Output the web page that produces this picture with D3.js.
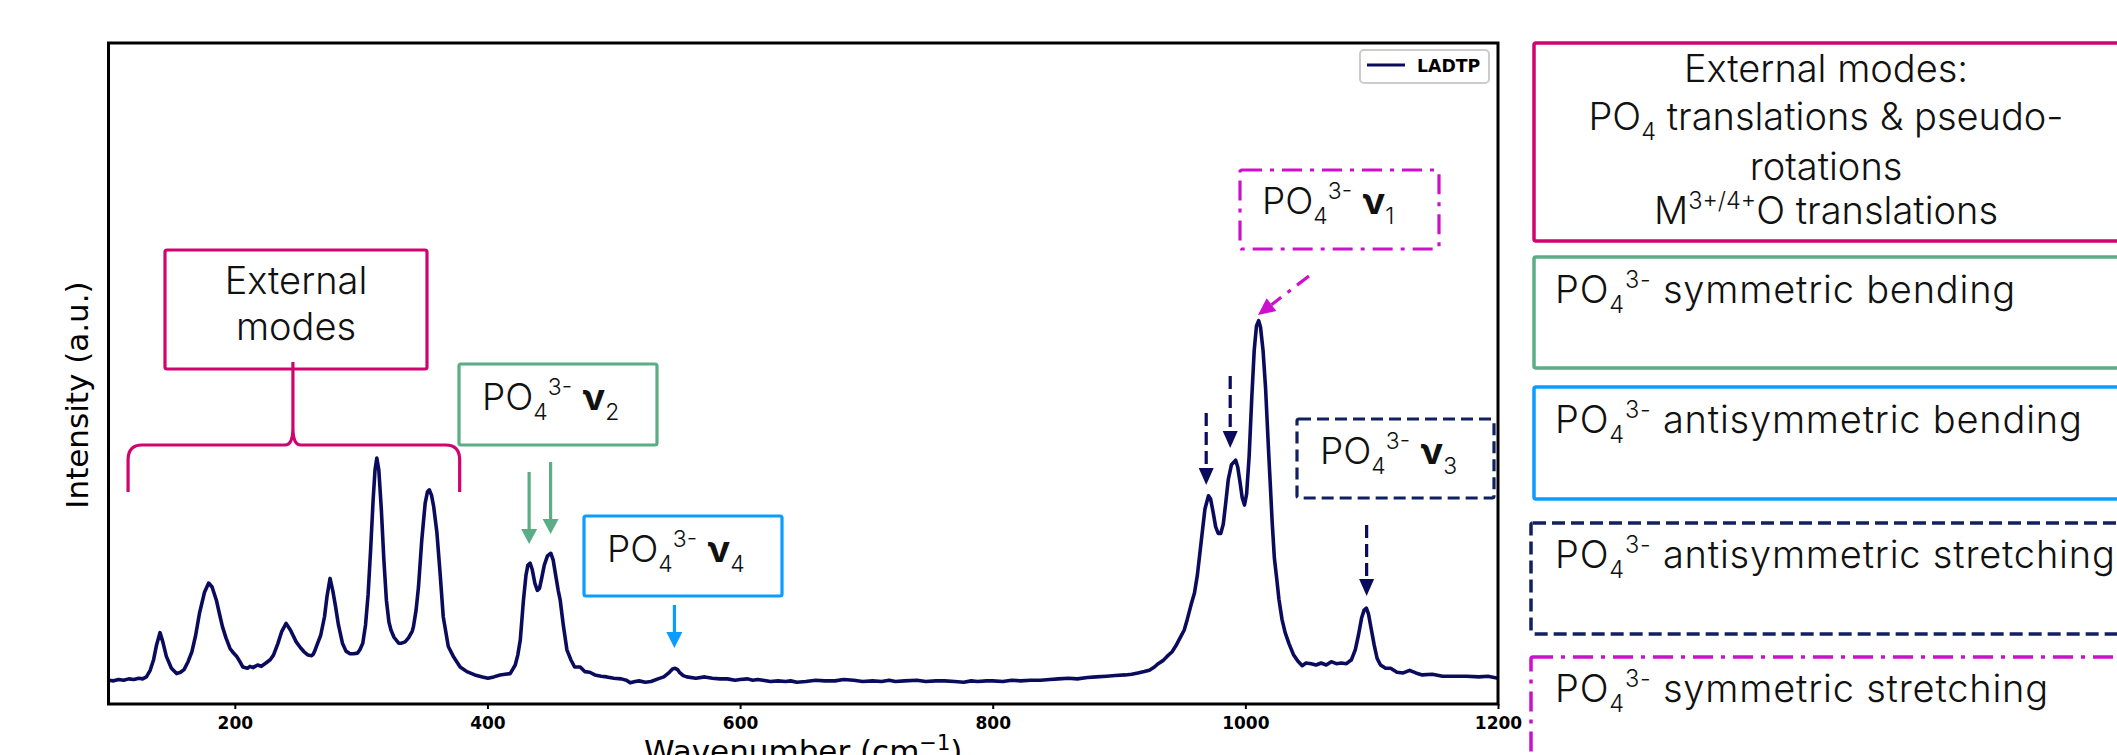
<!DOCTYPE html>
<html>
<head>
<meta charset="utf-8">
<script src="https://cdn.jsdelivr.net/npm/d3@7"></script>
<style>
  html, body { margin: 0; padding: 0; background: #fff; }
  svg { display: block; }
</style>
</head>
<body>
<svg id="chart" width="2117" height="755"></svg>
<script>
// ---------------- DATA ----------------
const seriesName = "LADTP";
const wavenumber = [100,104,108,112,116,120,124,127,130,133,135.7,138,140.8,143,145.8,149.8,153.9,157,159.8,163,166,169,172,176,179.3,182,185.4,188,190.2,193,196.2,199,201.5,204,206.3,210,212,214.4,218,221,224.6,228,230.6,234,237,240.6,244,248.6,252,254.8,258,260.8,262,263,265,268,271,273,275.4,277.5,279.8,282,285.2,288,291.2,294,297.2,299,301.3,303.5,305.5,307.5,309.5,311,312.4,314,316,318,320,322,323.6,326,329.7,332,334.8,337.5,340.4,341.4,343.5,345.4,348,350.7,352.5,354,355.7,357.4,360,362.5,365,369,373,378.4,383.7,390,396,400.4,405,410,414,418,422,424,426,428.5,430.5,432,433.8,435.5,437.5,439.5,441.2,443,445,447.5,450.2,452,454,456,457.6,460,462.9,466,469,473.4,477,481,485,490,494.5,500,506,510,513,517,520,525,529.5,535,539.6,544,546.5,548.6,550.5,552,555,557.8,565,572,578,584,590,596,600,606,610,614,618,624,630,636,640,645,652,660,667,675,682,690,697,705,712,718,723,730,740,747,755,762,770,777,783,788,795,800,808,815,822,830,838,845,852,860,867,875,882,890,897,905,910,915,920,924,928,931,935,938,942,945,948,951.6,954,957,959.7,962,965,968,970.8,972.5,974.5,976.5,978.5,980.5,982.5,984.5,986.5,989,992.3,994,995.8,997.5,999.3,1001,1003,1005,1007,1008.8,1010.5,1012,1014,1016,1018.5,1020,1021.2,1023,1024.8,1026.6,1029,1031.5,1034.6,1038,1041.5,1045,1048,1052,1056,1060,1064,1068,1072,1076,1080,1084,1087,1089.5,1092,1094,1095.8,1097.5,1099.5,1102,1104.3,1107,1111,1115,1120,1125,1130,1135,1140,1148,1156,1165,1175,1185,1192,1200];
const intensity = [36,35,37,36,38,37,39,38,41,51,67,89,108,94,72,54,46,48,52,64,79,104,137,169,183,177,157,135,117,100,84,77,72,64,56,54,57,55,59,57,62,67,74,91,109,122,112,94,85,79,74,73,75,79,89,104,132,163,190,172,147,120,92,80,76,76,77,82,92,120,165,233,309,354,372,354,294,218,157,124,112,101,92,92,94,100,110,117,142,177,248,304,321,324,316,299,259,198,132,87,72,56,49,44,41,39,41,44,45,46,59,74,97,157,195,210,213,203,183,172,175,191,210,224,228,218,195,172,157,120,82,67,56,56,49,48,44,42,41,39,38,36,32,34,35,33,34,38,41,48,53,54,52,48,43,41,39,41,39,38,38,36,37,38,36,37,36,34,35,34,35,33,34,36,35,35,37,36,34,35,34,36,34,35,36,34,35,35,34,33,35,34,35,35,34,36,35,36,36,37,38,39,38,40,41,42,43,44,45,47,49,51,56,61,66,72,79,88,99,112,128,150,168,195,245,295,315,310,290,268,258,258,272,305,340,362,369,358,335,312,301,318,375,460,535,572,580,570,535,478,378,322,276,220,190,158,128,108,91,75,65,58,62,61,59,62,59,64,61,62,61,67,82,104,130,142,145,136,115,89,69,59,54,54,48,47,51,47,44,45,42,42,42,41,42,39];
const xTicks = [200, 400, 600, 800, 1000, 1200];
const xLabel = "Wavenumber (cm";
const yLabel = "Intensity (a.u.)";

// annotation texts
const panelLines = [
  [{t:"External modes:"}],
  [{t:"PO"},{t:"4",sub:1},{t:" translations & pseudo-"}],
  [{t:"rotations"}],
  [{t:"M"},{t:"3+/4+",sup:1},{t:"O translations"}]
];
const panelItems = [
  [{t:"PO"},{t:"4",sub:1},{t:"3-",sup:1},{t:"  symmetric bending"}],
  [{t:"PO"},{t:"4",sub:1},{t:"3-",sup:1},{t:" antisymmetric bending"}],
  [{t:"PO"},{t:"4",sub:1},{t:"3-",sup:1},{t:" antisymmetric stretching"}],
  [{t:"PO"},{t:"4",sub:1},{t:"3-",sup:1},{t:" symmetric stretching"}]
];
const modeLabel = n => [{t:"PO"},{t:"4",sub:1},{t:"3-",sup:1},{t:" "},{t:"\u03bd",bold:1},{t:String(n),sub:1}];

// colours
const cLine = "#0b0b5e";
const cPink = "#d0046f";
const cGreen = "#5aad84";
const cBlue = "#0a9cff";
const cNavy = "#102060";
const cMag = "#cc11cc";

// ---------------- DRAW ----------------
const svg = d3.select("#chart");
const L = 108.5, R = 1498, T = 43, B = 704;
const x = d3.scaleLinear().domain([100, 1200]).range([L, R]);
const y = d3.scaleLinear().domain([0, 1000]).range([B, T]);

const annoFont = "Inter, 'Noto Sans', sans-serif";

function rich(g, px, py, parts, size, anchor, ls) {
  const t = g.append("text").attr("x", px).attr("y", py)
    .attr("font-family", annoFont).attr("font-size", size).attr("font-weight", 300)
    .attr("letter-spacing", ls || 0)
    .attr("text-anchor", anchor || "start").attr("fill", "#111");
  let cur = 0;
  parts.forEach(p => {
    const off = p.sub ? 0.26 * size : (p.sup ? -0.40 * size : 0);
    const ts = t.append("tspan").attr("dy", off - cur).text(p.t);
    if (p.sub || p.sup) ts.attr("font-size", size * 0.62);
    if (p.bold) ts.attr("font-weight", "bold");
    cur = off;
  });
  return t;
}

function arrow(g, x1, y1, x2, y2, color, dash, hl, hw) {
  const a = Math.atan2(y2 - y1, x2 - x1);
  const bx = x2 - hl * Math.cos(a), by = y2 - hl * Math.sin(a);
  g.append("line").attr("x1", x1).attr("y1", y1).attr("x2", bx).attr("y2", by)
    .attr("stroke", color).attr("stroke-width", 3.2)
    .attr("stroke-dasharray", dash || null);
  const px = -Math.sin(a) * hw / 2, py = Math.cos(a) * hw / 2;
  g.append("path").attr("d", `M${x2},${y2}L${bx + px},${by + py}L${bx - px},${by - py}Z`).attr("fill", color);
}

function box(g, x0, y0, w, h, color, dash, sw) {
  g.append("rect").attr("x", x0).attr("y", y0).attr("width", w).attr("height", h)
    .attr("rx", 2).attr("fill", "none").attr("stroke", color)
    .attr("stroke-width", sw || 3.2).attr("stroke-dasharray", dash || null);
}

// clip
svg.append("defs").append("clipPath").attr("id", "clip")
  .append("rect").attr("x", L).attr("y", T).attr("width", R - L).attr("height", B - T);

// spectrum
const pts = wavenumber.map((w, i) => [w, intensity[i]]);
svg.append("path").datum(pts)
  .attr("clip-path", "url(#clip)")
  .attr("fill", "none").attr("stroke", cLine).attr("stroke-width", 3.6)
  .attr("stroke-linejoin", "round")
  .attr("d", d3.line().x(d => x(d[0])).y(d => y(d[1])));

// x axis
const ax = svg.append("g").attr("transform", `translate(0,${B})`)
  .call(d3.axisBottom(x).tickValues(xTicks).tickFormat(d3.format("d")).tickSize(5).tickPadding(8));
ax.select(".domain").remove();
ax.selectAll(".tick line").attr("stroke", "#000").attr("stroke-width", 2);
ax.selectAll(".tick text").attr("font-family", "'DejaVu Sans', sans-serif")
  .attr("font-weight", "bold").attr("font-size", 17).attr("fill", "#000");

// frame
svg.append("rect").attr("x", L).attr("y", T).attr("width", R - L).attr("height", B - T)
  .attr("fill", "none").attr("stroke", "#000").attr("stroke-width", 3);

// axis labels
const xl = svg.append("text").attr("x", (L + R) / 2).attr("y", 762).attr("text-anchor", "middle")
  .attr("font-family", "'DejaVu Sans', sans-serif").attr("font-size", 31).attr("fill", "#000");
xl.append("tspan").text(xLabel);
xl.append("tspan").attr("dy", -12).attr("font-size", 21).text("\u22121");
xl.append("tspan").attr("dy", 12).text(")");

svg.append("text").attr("transform", "translate(88,395) rotate(-90)")
  .attr("text-anchor", "middle").attr("font-family", "'DejaVu Sans', sans-serif")
  .attr("font-size", 31).attr("fill", "#000").text(yLabel);

// legend
const lg = svg.append("g");
lg.append("rect").attr("x", 1360).attr("y", 50).attr("width", 129).attr("height", 33).attr("rx", 4)
  .attr("fill", "#fff").attr("stroke", "#cccccc").attr("stroke-width", 2);
lg.append("line").attr("x1", 1367).attr("x2", 1405).attr("y1", 65).attr("y2", 65)
  .attr("stroke", cLine).attr("stroke-width", 3.2);
lg.append("text").attr("x", 1417).attr("y", 71.5).attr("font-family", "'DejaVu Sans', sans-serif")
  .attr("font-weight", "bold").attr("font-size", 17.3).attr("fill", "#000").text(seriesName);

// ---------------- annotations in plot ----------------
const an = svg.append("g");
// External modes box + bracket
box(an, 165, 250, 262, 119, cPink);
rich(an, 296, 294, [{t:"External"}], 38, "middle");
rich(an, 296, 340, [{t:"modes"}], 38, "middle");
const bxL = x(115.5), bxR = x(378), bxC = x(246);
an.append("path").attr("fill", "none").attr("stroke", cPink).attr("stroke-width", 3.2)
  .attr("d", `M${bxL},492 V460 Q${bxL},445 ${bxL + 14},445 H${bxC - 8} Q${bxC},445 ${bxC},428 V362 M${bxC},428 Q${bxC},445 ${bxC + 8},445 H${bxR - 14} Q${bxR},445 ${bxR},460 V492`);

// v2
box(an, 459, 364, 198, 81, cGreen);
rich(an, 482, 410, modeLabel(2), 37);
arrow(an, x(433), 472, x(433), 544, cGreen, null, 15, 16);
arrow(an, x(450), 462, x(450), 534, cGreen, null, 15, 16);

// v4
box(an, 584, 516, 198, 80, cBlue);
rich(an, 607, 562, modeLabel(4), 37);
arrow(an, x(548), 605, x(548), 648, cBlue, null, 16, 16);

// v1
box(an, 1240, 170, 199, 79, cMag, "20,8,4,8");
rich(an, 1262, 214, modeLabel(1), 37);
arrow(an, 1309, 276, x(1010), 315, cMag, "15,8,4,8", 17, 16);

// v3
box(an, 1297, 419, 197, 79, cNavy, "12,6");
rich(an, 1320, 464, modeLabel(3), 37);
arrow(an, x(969), 413, x(969), 485, cLine, "13,6", 17, 15);
arrow(an, x(988), 376, x(988), 448, cLine, "13,6", 17, 15);
arrow(an, x(1096), 525, x(1096), 596, cLine, "13,6", 17, 15);

// ---------------- right panel ----------------
const pn = svg.append("g");
box(pn, 1534, 43, 620, 198, cPink, null, 3.5);
const lineY = [82, 130, 180, 224];
panelLines.forEach((p, i) => rich(pn, 1826, lineY[i], p, 38, "middle"));
box(pn, 1534, 257, 620, 111, cGreen, null, 3.5);
rich(pn, 1555, 303, panelItems[0], 38, "start", 0.8);
box(pn, 1534, 387, 620, 112, cBlue, null, 3.5);
rich(pn, 1555, 433, panelItems[1], 38, "start", 0.8);
box(pn, 1531, 523, 620, 111, cNavy, "13,6", 3.5);
rich(pn, 1555, 568, panelItems[2], 38, "start", 0.8);
box(pn, 1531, 657, 620, 150, cMag, "20,8,4,8", 3.5);
rich(pn, 1555, 702, panelItems[3], 38, "start", 0.8);
</script>
</body>
</html>
